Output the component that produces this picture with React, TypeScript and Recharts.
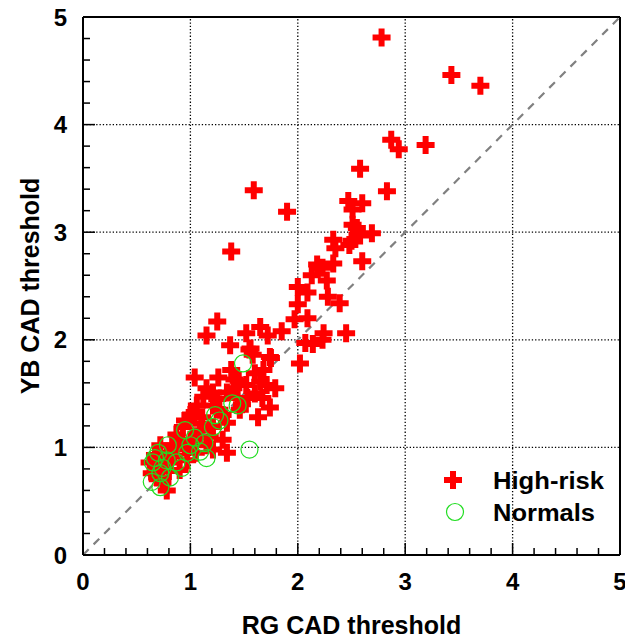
import { Legend, ReferenceLine, Scatter, ScatterChart, XAxis, YAxis } from 'recharts';

// high-risk group: RG threshold (x) / YB threshold (y)
const highRiskRG = [
  2.78, 3.43, 3.70, 2.87, 2.94, 3.19, 2.58, 2.83, 1.59, 1.90, 1.38, 2.47, 2.60, 2.51, 2.51, 2.55, 2.69, 2.58,
  2.33, 2.50, 2.35, 2.48, 2.60, 2.18, 2.23, 2.33, 2.13, 2.27, 2.00, 2.09, 2.28, 2.00, 2.39, 1.97, 2.09, 1.25,
  1.15, 1.65, 1.52, 1.72, 1.85, 2.45, 2.24, 2.07, 2.14, 2.23, 1.37, 1.56, 2.02, 1.75, 1.58, 1.04, 1.26, 1.60,
  1.65, 1.79, 1.71, 1.55, 1.74, 1.12, 1.21, 1.34, 1.44, 1.67, 1.74, 1.63, 1.06, 1.11, 1.21, 1.27, 1.34, 0.93,
  1.21, 1.09, 1.30, 1.21, 1.34, 1.00, 0.87, 0.78, 0.97, 0.81, 0.72, 0.69, 0.74, 0.78, 0.64, 0.73, 0.87, 0.95,
  1.04, 1.15, 1.46, 1.53, 1.41, 1.52, 1.04, 0.90, 0.83, 0.67, 0.62, 0.72, 0.85, 0.95, 1.05, 1.10, 1.18, 1.25,
  1.30, 1.40, 1.48, 1.15, 0.90, 0.80, 1.00, 1.60, 1.68, 1.38, 1.45,
];
const highRiskYB = [
  4.81, 4.46, 4.36, 3.86, 3.77, 3.81, 3.59, 3.38, 3.39, 3.19, 2.82, 3.29, 3.27, 3.21, 3.07, 3.04, 2.99, 2.97,
  2.93, 2.92, 2.85, 2.88, 2.73, 2.70, 2.67, 2.71, 2.60, 2.55, 2.49, 2.44, 2.40, 2.33, 2.34, 2.19, 2.20, 2.17,
  2.04, 2.12, 2.06, 2.04, 2.08, 2.06, 2.06, 1.97, 1.96, 2.00, 1.95, 1.92, 1.78, 1.83, 1.86, 1.65, 1.65, 1.69,
  1.61, 1.55, 1.58, 1.91, 1.84, 1.47, 1.51, 1.51, 1.46, 1.46, 1.37, 1.28, 1.39, 1.28, 1.39, 1.35, 1.23, 1.19,
  1.19, 1.16, 1.07, 0.98, 0.95, 1.07, 0.98, 0.95, 0.88, 0.86, 0.82, 0.72, 0.67, 0.60, 0.76, 0.88, 1.12, 1.25,
  1.33, 1.02, 1.35, 1.46, 1.63, 1.58, 1.07, 0.79, 1.02, 0.93, 0.86, 1.02, 0.92, 1.00, 0.95, 1.22, 1.10, 1.45,
  1.30, 1.55, 1.40, 1.55, 1.05, 0.78, 1.30, 1.50, 1.72, 1.72, 1.62,
];

// normals
const normalRG = [
  1.49, 1.39, 1.44, 1.23, 1.21, 0.95, 1.04, 1.13, 0.97, 1.09, 1.15, 1.55, 0.92, 0.79, 0.70, 0.65, 0.78, 0.81,
  0.72, 0.64, 0.72, 0.67, 0.87, 0.74, 1.27, 1.00,
];
const normalYB = [
  1.78, 1.41, 1.39, 1.30, 1.19, 1.16, 1.09, 1.04, 0.95, 0.96, 0.90, 0.98, 0.81, 1.02, 0.95, 0.86, 0.88, 0.72,
  0.76, 0.68, 0.63, 0.90, 0.86, 0.81, 1.25, 1.02,
];

const axisTicks = [
  0, 0.2, 0.4, 0.6, 0.8, 1, 1.2, 1.4, 1.6, 1.8, 2, 2.2, 2.4, 2.6, 2.8, 3, 3.2, 3.4, 3.6, 3.8, 4, 4.2, 4.4, 4.6,
  4.8, 5,
];
const gridLines = [1, 2, 3, 4];

const highRisk = highRiskRG.map((x, i) => ({ x, y: highRiskYB[i] }));
const normals = normalRG.map((x, i) => ({ x, y: normalYB[i] }));

const FONT = '"Liberation Sans", Arial, sans-serif';
const RED = '#ff0000';
const GREEN = '#22dd22';

const isMajor = (v: number) => Math.abs(v - Math.round(v)) < 1e-6;

function crossPath(cx: number, cy: number) {
  return `M${cx - 9},${cy - 3}h18v6h-18z M${cx - 3},${cy - 9}h6v18h-6z`;
}

const Cross = (props: any) => <path d={crossPath(props.cx, props.cy)} fill={RED} />;
const Ring = (props: any) => (
  <circle cx={props.cx} cy={props.cy} r={8.5} fill="none" stroke={GREEN} strokeWidth={1.2} />
);

function XTick({ x, y, payload }: any) {
  const v = payload.value;
  const major = isMajor(v);
  return (
    <g>
      <line x1={x} x2={x} y1={y} y2={y - (major ? 12 : 7)} stroke="#000" strokeWidth={1.5} />
      {major && (
        <text x={x} y={y + 35} textAnchor="middle" fontFamily={FONT} fontWeight="bold" fontSize={24} fill="#000">
          {Math.round(v)}
        </text>
      )}
    </g>
  );
}

function YTick({ x, y, payload }: any) {
  const v = payload.value;
  const major = isMajor(v);
  return (
    <g>
      <line x1={x} x2={x + (major ? 12 : 7)} y1={y} y2={y} stroke="#000" strokeWidth={1.5} />
      {major && (
        <text x={x - 16} y={y + 8.5} textAnchor="end" fontFamily={FONT} fontWeight="bold" fontSize={24} fill="#000">
          {Math.round(v)}
        </text>
      )}
    </g>
  );
}

function LegendBox() {
  return (
    <svg width={180} height={70}>
      <path d={crossPath(13, 18)} fill={RED} />
      <text
        x={53}
        y={27}
        fontFamily={FONT}
        fontWeight="bold"
        fontSize={24}
        fill="#000"
        textLength={111}
        lengthAdjust="spacingAndGlyphs"
      >
        High-risk
      </text>
      <circle cx={15} cy={50} r={8.5} fill="none" stroke={GREEN} strokeWidth={1.2} />
      <text
        x={53}
        y={59}
        fontFamily={FONT}
        fontWeight="bold"
        fontSize={24}
        fill="#000"
        textLength={102}
        lengthAdjust="spacingAndGlyphs"
      >
        Normals
      </text>
    </svg>
  );
}

export default function App() {
  return (
    <div style={{ position: 'absolute', left: 0, top: 0, background: '#fff' }}>
      <ScatterChart width={625} height={640} margin={{ top: 17, right: 5, left: 0, bottom: 0 }}>
        <XAxis
          type="number"
          dataKey="x"
          domain={[0, 5]}
          ticks={axisTicks}
          interval={0}
          tickSize={0}
          tickMargin={0}
          tickLine={false}
          tick={<XTick />}
          axisLine={{ stroke: '#000', strokeWidth: 2 }}
          height={85}
          label={{
            value: 'RG CAD threshold',
            position: 'insideBottom',
            offset: 6,
            style: { fontFamily: FONT, fontWeight: 'bold', fontSize: 25, fill: '#000' },
          }}
        />
        <YAxis
          type="number"
          dataKey="y"
          domain={[0, 5]}
          ticks={axisTicks}
          interval={0}
          tickSize={0}
          tickMargin={0}
          tickLine={false}
          tick={<YTick />}
          axisLine={{ stroke: '#000', strokeWidth: 2 }}
          width={83}
          label={{
            value: 'YB CAD threshold',
            angle: -90,
            position: 'insideLeft',
            offset: 30,
            style: { textAnchor: 'middle', fontFamily: FONT, fontWeight: 'bold', fontSize: 25, fill: '#000' },
          }}
        />
        {gridLines.map((v) => (
          <ReferenceLine key={`gx${v}`} x={v} stroke="#000" strokeWidth={1.3} strokeDasharray="1.3 2" />
        ))}
        {gridLines.map((v) => (
          <ReferenceLine key={`gy${v}`} y={v} stroke="#000" strokeWidth={1.3} strokeDasharray="1.3 2" />
        ))}
        <ReferenceLine x={5} stroke="#000" strokeWidth={2} />
        <ReferenceLine y={5} stroke="#000" strokeWidth={2} />
        <Scatter data={highRisk} shape={<Cross />} isAnimationActive={false} />
        <ReferenceLine
          segment={[
            { x: 0, y: 0 },
            { x: 5, y: 5 },
          ]}
          stroke="#808080"
          strokeWidth={2.2}
          strokeDasharray="8 7"
        />
        <Scatter data={normals} shape={<Ring />} isAnimationActive={false} />
        <Legend
          layout="vertical"
          align="center"
          verticalAlign="middle"
          content={<LegendBox />}
          wrapperStyle={{ position: 'absolute', left: 440, top: 462, width: 180, height: 70 }}
        />
      </ScatterChart>
    </div>
  );
}
